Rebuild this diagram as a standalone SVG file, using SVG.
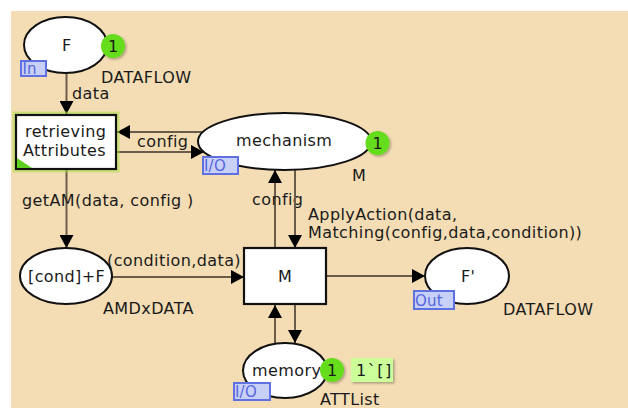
<svg xmlns="http://www.w3.org/2000/svg" width="628" height="408" viewBox="0 0 628 408">
<style>
text{font-family:"DejaVu Sans","Liberation Sans",sans-serif;font-size:16px;fill:#1a1a1a;letter-spacing:0.4px}
.pl{fill:#fff;stroke:#111;stroke-width:2}
.tr{fill:#fff;stroke:#111;stroke-width:2.2}
.arc{fill:none;stroke:#6a5c48;stroke-width:2;marker-end:url(#ah)}
.tag{fill:#c8d0f8;stroke:#5f70e0;stroke-width:2}
.tagt{fill:#5566dd;font-size:15px;letter-spacing:0.2px}
.tok{fill:#66dd1e}
.tokt{font-size:16px;letter-spacing:0;text-anchor:middle}
</style>
<defs>
<marker id="ah" markerUnits="userSpaceOnUse" markerWidth="14" markerHeight="14" refX="13" refY="7" orient="auto">
<path d="M0,0 L13,7 L0,14 z" fill="#000"/>
</marker>
<filter id="sh" x="-30%" y="-30%" width="160%" height="160%">
<feDropShadow dx="1.5" dy="1.5" stdDeviation="1" flood-color="#000" flood-opacity="0.3"/>
</filter>
</defs>
<rect x="0" y="0" width="628" height="408" fill="#fff"/>
<rect x="11" y="11" width="617" height="397" fill="#f4ddb4"/>

<g id="connectors">
<path class="arc" d="M66.5,73 L66.5,114"/>
<text x="72" y="99">data</text>
<path class="arc" d="M203,132 L117,132"/>
<path class="arc" d="M117,152 L204,152"/>
<text x="137" y="147">config</text>
<path class="arc" d="M66.5,170 L66.5,248"/>
<text x="22" y="206">getAM(data, config )</text>
<path class="arc" d="M112,277 L244,277"/>
<text x="107" y="266">(condition,data)</text>
<path class="arc" d="M275,248 L275,170"/>
<text x="252" y="205">config</text>
<path class="arc" d="M295,170 L295,248"/>
<text x="308" y="220">ApplyAction(data,</text>
<text x="308" y="238">Matching(config,data,condition))</text>
<path class="arc" d="M327,276 L425,276"/>
<path class="arc" d="M275,343 L275,305"/>
<path class="arc" d="M295,304 L295,343"/>
</g>

<g id="place-F">
<ellipse class="pl" cx="65.5" cy="45" rx="41.5" ry="28"/>
<text x="62" y="51">F</text>
<circle class="tok" cx="113" cy="46" r="12" filter="url(#sh)"/>
<text class="tokt" x="113" y="52">1</text>
<rect class="tag" x="21" y="61" width="25" height="15"/>
<text class="tagt" x="22.5" y="74">In</text>
<text x="101" y="83">DATAFLOW</text>
</g>

<g id="trans-retrieving">
<rect x="16" y="115" width="100" height="54" fill="none" stroke="#a8e04a" stroke-width="7" stroke-opacity="0.55"/>
<rect class="tr" x="16" y="115" width="100" height="54"/>
<path d="M17,168 L17,158 L32,168 z" fill="#5fcf1f"/>
<text x="25" y="137">retrieving</text>
<text x="23" y="156">Attributes</text>
</g>

<g id="place-mechanism">
<ellipse class="pl" cx="284.5" cy="141.5" rx="86.5" ry="28.5"/>
<text x="236" y="146">mechanism</text>
<circle class="tok" cx="377.5" cy="143" r="12" filter="url(#sh)"/>
<text class="tokt" x="377.5" y="149">1</text>
<rect class="tag" x="203" y="157" width="35" height="17"/>
<text class="tagt" x="204" y="171">I/O</text>
<text x="352" y="181">M</text>
</g>

<g id="place-cond">
<ellipse class="pl" cx="66" cy="276" rx="46" ry="28"/>
<text x="28" y="282">[cond]+F</text>
<text x="103" y="314">AMDxDATA</text>
</g>

<g id="trans-M">
<rect class="tr" x="244" y="248" width="82" height="56"/>
<text x="278" y="282">M</text>
</g>

<g id="place-Fprime">
<ellipse class="pl" cx="467" cy="276" rx="42" ry="28"/>
<text x="461" y="282">F'</text>
<rect class="tag" x="414" y="291" width="40" height="18"/>
<text class="tagt" x="415" y="305.5">Out</text>
<text x="503" y="315">DATAFLOW</text>
</g>

<g id="place-memory">
<ellipse class="pl" cx="285" cy="370.5" rx="42" ry="27.5"/>
<text x="252" y="376">memory</text>
<circle class="tok" cx="332" cy="370" r="12" filter="url(#sh)"/>
<text class="tokt" x="332" y="376">1</text>
<rect x="351" y="358" width="42" height="24" fill="#ccff99" filter="url(#sh)"/>
<text x="356" y="376" style="letter-spacing:1.5px">1`[]</text>
<rect class="tag" x="234" y="383" width="36" height="17"/>
<text class="tagt" x="235" y="397">I/O</text>
<text x="320" y="405">ATTList</text>
</g>
</svg>
